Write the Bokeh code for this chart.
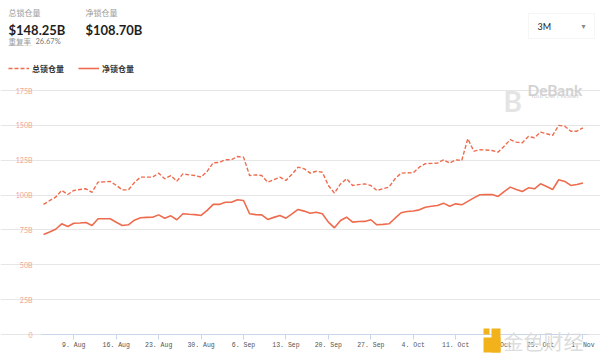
import pandas as pd
from bokeh.plotting import figure
from bokeh.models import (Label, Legend, LegendItem, FixedTicker, DatetimeTickFormatter,
                          BoxAnnotation, Range1d)
from bokeh.embed import file_html
from bokeh.resources import INLINE

# ---------------- data ----------------
START = "2021-08-04"
TOTAL = [93.3, 96.0, 98.5, 103.3, 100.4, 103.3, 104.0, 104.5, 102.0, 109.3,
         109.5, 109.8, 107.0, 103.7, 103.7, 109.0, 112.9, 112.9, 112.9, 115.7,
         111.7, 114.0, 110.0, 115.2, 114.5, 114.0, 112.9, 117.0, 123.2, 123.4,
         125.3, 125.3, 127.7, 127.2, 114.0, 114.5, 114.0, 109.3, 111.0, 112.9,
         110.5, 115.0, 120.0, 118.9, 115.7, 117.1, 116.4, 106.9, 101.4, 108.0,
         111.7, 106.9, 107.5, 108.0, 106.9, 103.3, 104.5, 105.7, 111.7, 115.7,
         116.0, 115.9, 120.0, 122.5, 122.7, 122.9, 125.3, 122.9, 125.3, 124.8,
         140.4, 131.5, 132.5, 132.3, 132.0, 130.8, 135.0, 139.7, 138.0, 137.5,
         142.0, 141.1, 145.1, 144.0, 142.8, 150.0, 149.4, 145.8, 145.8, 148.25]
NET = [71.7, 73.5, 75.5, 79.4, 77.5, 79.8, 80.0, 80.3, 78.2, 83.0,
       83.0, 83.0, 80.5, 78.2, 78.7, 82.0, 83.7, 84.0, 84.1, 85.8,
       83.4, 85.1, 82.3, 86.6, 86.2, 86.0, 85.4, 89.0, 93.3, 93.3,
       94.9, 94.9, 96.6, 96.1, 86.6, 86.0, 85.8, 82.5, 84.0, 85.4,
       83.4, 86.5, 89.7, 88.5, 87.0, 87.7, 86.6, 80.6, 76.5, 81.8,
       84.1, 80.6, 81.0, 81.1, 82.3, 78.7, 79.0, 79.4, 83.4, 87.3,
       88.2, 88.6, 89.4, 91.3, 92.0, 92.5, 94.2, 92.0, 93.7, 93.0,
       95.5, 98.0, 100.2, 100.3, 100.4, 99.0, 102.5, 105.7, 104.0, 102.6,
       105.2, 104.5, 108.1, 106.2, 104.0, 111.0, 109.8, 106.9, 107.6, 108.7]
DATES = pd.date_range(START, periods=len(TOTAL), freq="D")

SERIES_NAMES = ["总锁仓量", "净锁仓量"]
HEADER_VALUES = ["$148.25B", "$108.70B"]
DUP_LABEL = "重复率"
DUP_VALUE = "26.67%"

XTICKS = ["2021-08-09", "2021-08-16", "2021-08-23", "2021-08-30", "2021-09-06",
          "2021-09-13", "2021-09-20", "2021-09-27", "2021-10-04", "2021-10-11",
          "2021-10-18", "2021-10-25", "2021-11-01"]
YTICKS = [0, 25, 50, 75, 100, 125, 150, 175]
YLABELS = ["0", "25B", "50B", "75B", "100B", "125B", "150B", "175B"]

LINE_COLOR = "#ee6b4d"

# ---------------- layout geometry (picture px) ----------------
W, H = 600, 362
PL, PT = 0, 0                      # canvas origin in picture
PLOT_L, PLOT_R, PLOT_T, PLOT_B = 41, 588, 90, 334
X0 = pd.Timestamp("2021-08-03 16:00")
X1 = pd.Timestamp("2021-11-01 22:00")
px_per_day = (PLOT_R - PLOT_L) / ((X1 - X0) / pd.Timedelta(days=1))
XS = X0 - pd.Timedelta(days=(PLOT_L - PL) / px_per_day)
XE = X1 + pd.Timedelta(days=(PL + W - PLOT_R) / px_per_day)
YMAX = YTICKS[-1]
px_per_unit = (PLOT_B - PLOT_T) / YMAX
YE = YMAX + (PLOT_T - PT) / px_per_unit
YS = -(PT + H - PLOT_B) / px_per_unit

ms = lambda t: t.value // 10**6

p = figure(width=W, height=H, output_backend="svg", toolbar_location=None,
           x_axis_type="datetime", x_range=Range1d(XS, XE), y_range=Range1d(YS, YE),
           min_border=0)
p.outline_line_color = None
p.background_fill_color = "white"
p.border_fill_color = "white"

r_total = p.line(DATES, TOTAL, line_color=LINE_COLOR, line_width=1.4, line_dash="4 2")
r_net = p.line(DATES, NET, line_color=LINE_COLOR, line_width=1.6)

# axes (drawn at the plot-area edges)
xa = p.xaxis[0]
xa.fixed_location = 0
xa.bounds = (ms(X0), ms(X1))
xa.ticker = FixedTicker(ticks=[ms(pd.Timestamp(d)) for d in XTICKS])
fmt = "%-d. %b"
xa.formatter = DatetimeTickFormatter(days=fmt, months=fmt, years=fmt, hours=fmt,
                                     hourmin=fmt, minutes=fmt, minsec=fmt, seconds=fmt)
xa.axis_line_color = "#ccd6eb"
xa.major_tick_line_color = "#ccd6eb"
xa.major_tick_in = 0
xa.major_tick_out = 5
xa.minor_tick_line_color = None
xa.major_label_text_font = "Liberation Mono"
xa.major_label_text_font_size = "6.5px"
xa.major_label_text_color = "#555555"
xa.major_label_standoff = 2

ya = p.yaxis[0]
ya.fixed_location = ms(X0)
ya.bounds = (0, YMAX)
ya.ticker = FixedTicker(ticks=YTICKS)
ya.major_label_overrides = {t: l for t, l in zip(YTICKS, YLABELS)}
ya.axis_line_color = None
ya.major_tick_line_color = None
ya.minor_tick_line_color = None
ya.major_tick_in = 0
ya.major_tick_out = 0
ya.major_label_standoff = 9
ya.major_label_text_font = "Lato"
ya.major_label_text_font_size = "7px"
ya.major_label_text_color = "#f2a494"

p.xgrid.grid_line_color = None
p.ygrid.grid_line_color = "#e6e6e6"
p.ygrid.grid_line_width = 1
p.ygrid.bounds = (ms(X0), ms(X1))

FB = PT + H   # picture y of canvas bottom


def box(l, r, t, b, fill, line=None, dash="solid"):
    p.add_layout(BoxAnnotation(left=l - PL, right=r - PL, top=FB - t, bottom=FB - b,
                               left_units="screen", right_units="screen",
                               top_units="screen", bottom_units="screen",
                               fill_color=fill, fill_alpha=1.0 if fill else 0,
                               line_color=line, line_dash=dash,
                               line_width=1, level="annotation"))


def lab(text, px, py, size, color, font="Lato", style="normal", align="left",
        baseline="middle", alpha=1.0):
    p.add_layout(Label(x=px - PL, y=FB - py, x_units="screen", y_units="screen",
                       text=text, text_font_size=size, text_color=color,
                       text_font=font, text_font_style=style, text_align=align,
                       text_baseline=baseline, text_alpha=alpha))


CJK = "Noto Sans CJK SC"

# dropdown box first so its text sits above it
box(528, 594, 13, 38, "white", "#e2e2e2")

# header
lab(SERIES_NAMES[0], 8, 12, "8px", "#9a9a9a", CJK)
lab(SERIES_NAMES[1], 85, 12, "8px", "#9a9a9a", CJK)
lab(HEADER_VALUES[0], 8, 29.5, "13px", "#1f1f1f", "Lato", "bold", baseline="alphabetic")
lab(HEADER_VALUES[1], 85, 29.5, "13px", "#1f1f1f", "Lato", "bold", baseline="alphabetic")
lab(DUP_LABEL, 8, 41, "7.5px", "#9a9a9a", CJK)
lab(DUP_VALUE, 35, 41, "7.5px", "#777777", "Lato")
box(8, 31, 45, 45, None, "#b0b0b0", "1 1")

# dropdown text
lab("3M", 537, 26, "9px", "#222222", "Lato")
lab("▾", 583, 25.5, "8px", "#888888", "DejaVu Sans", align="center")

# DeBank watermark
lab("B", 503, 100, "28px", "#e4e4e4", "Lato", "bold", baseline="alphabetic")
lab("DeBank", 527, 89.5, "15.5px", "#d2d2d2", "Lato", "bold", baseline="alphabetic")
lab("Your DeFi Wallet", 530, 95, "6.5px", "#cfcfcf", "Lato")

# legend
legend = Legend(items=[LegendItem(label=SERIES_NAMES[0], renderers=[r_total]),
                       LegendItem(label=SERIES_NAMES[1], renderers=[r_net])],
                orientation="horizontal", location=(8 - PL, FB - 73.5),
                padding=0, margin=0, spacing=14, label_standoff=3,
                glyph_width=21, glyph_height=10, label_height=10,
                label_text_font=CJK, label_text_font_size="8px",
                label_text_font_style="bold", label_text_color="#333333",
                border_line_color=None, background_fill_alpha=0)
p.add_layout(legend, "center")

# 金色财经 watermark
box(483, 500, 337, 352, "#f2b21b")
box(491, 500, 328, 352, "#f2b21b")
box(483, 489, 328, 334, "#f2b21b")
lab("金色财经", 503, 341, "20px", "#d9d9d9", CJK, alpha=0.9)

open("out.html", "w").write(file_html(p, INLINE))
